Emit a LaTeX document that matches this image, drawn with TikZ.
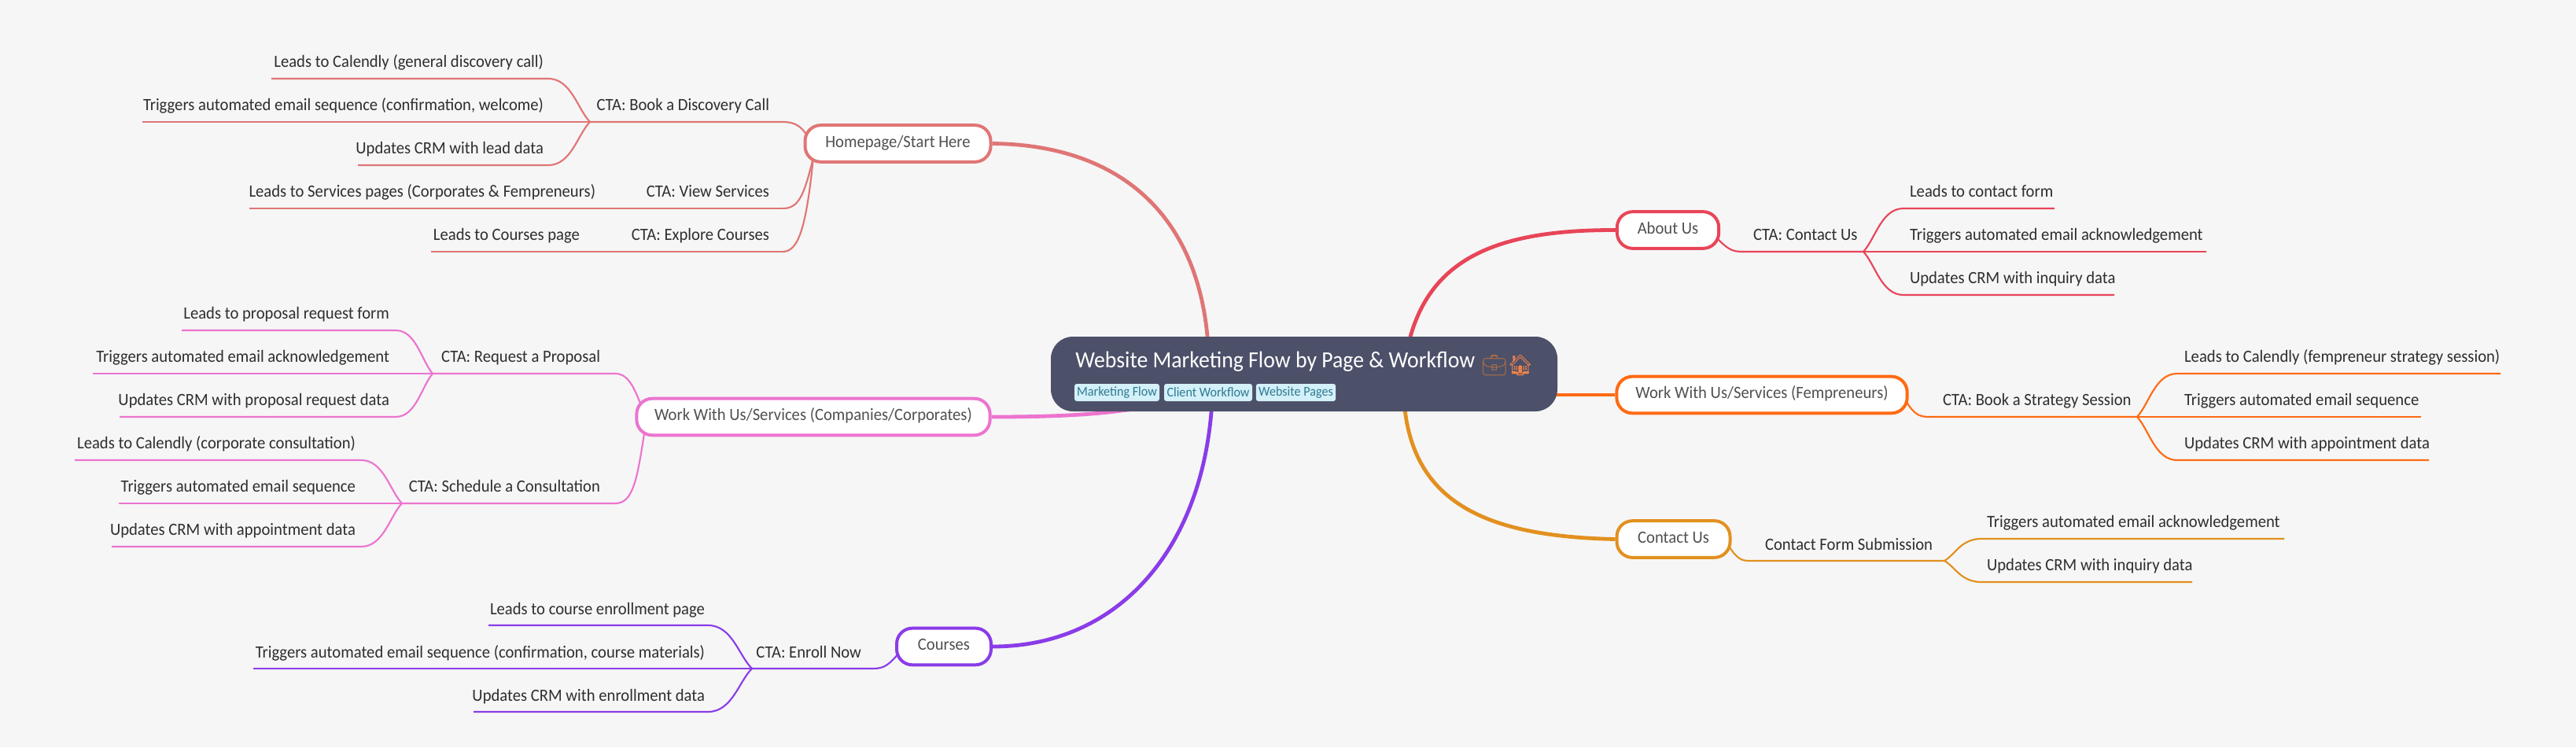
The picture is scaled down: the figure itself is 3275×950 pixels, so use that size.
\documentclass[tikz,border=0pt]{standalone}
\usepackage{fontspec}
\setmainfont[FakeStretch=0.945]{Carlito}
\newfontfamily\emojifont{Noto Emoji}
\usetikzlibrary{calc}
\pgfdeclarelayer{bg}
\pgfsetlayers{bg,main}
\definecolor{pagebg}{HTML}{F6F6F6}
\definecolor{rootfill}{HTML}{4C5069}
\definecolor{tagfill}{HTML}{D4F0F8}
\definecolor{tagtext}{HTML}{2F7A92}
\definecolor{leaftext}{HTML}{2E2E2E}
\definecolor{boxtext}{HTML}{505050}
\definecolor{chome}{HTML}{E07575}
\definecolor{cabout}{HTML}{E84558}
\definecolor{cfem}{HTML}{FF6A13}
\definecolor{ccontact}{HTML}{E2901F}
\definecolor{cwork}{HTML}{EC74CF}
\definecolor{ccourse}{HTML}{8A3CE8}
\definecolor{briefcase}{HTML}{B5703F}
\definecolor{house}{HTML}{F0824A}
\tikzset{
  x=0.75pt,y=-0.75pt,
  leaf/.style={inner sep=0pt,outer sep=0pt,text=leaftext,font=\fontsize{16.4}{18}\selectfont},
  page/.style={draw=#1,line width=3pt,rounded corners=15pt,fill=white,inner sep=0pt,text=boxtext,text height=11pt,text depth=4pt,font=\fontsize{16.4}{18}\selectfont},
  tag/.style={fill=tagfill,text=tagtext,rounded corners=2.2pt,inner sep=0pt,font=\fontsize{12.8}{14}\selectfont},
  trunk/.style={draw=#1,line width=3.6pt},
  limb/.style={draw=#1,line width=1.6pt},
}
% colour, name, far x, knee x, y, junction
\newcommand{\twig}[6]{%
  \coordinate (#2far) at (#3,#5);
  \coordinate (#2knee) at (#4,#5);
  \draw[limb=#1] (#2far) -- (#2knee)
    .. controls ($(#2knee)!0.55!(#6 |- #2knee)$) and ($(#6)!0.3!(#2knee)$) .. (#6);
}
% colour, name, far x, y, junction: the twig that runs straight into the junction
\newcommand{\stem}[5]{%
  \coordinate (#2far) at (#3,#4);
  \draw[limb=#1] (#2far) -- (#5);
}
\begin{document}
\begin{tikzpicture}
\useasboundingbox (0,0) rectangle (3275,950);
\begin{pgfonlayer}{bg}
\fill[pagebg] (0,0) rectangle (3275,950);
\end{pgfonlayer}

% central topic
\node[fill=rootfill,rounded corners=21pt,minimum width=483pt,minimum height=71.25pt,inner sep=0pt] (root) at (1658,475.5) {};
\node[inner sep=0pt,anchor=base west,text=white,font=\fontsize{22.05}{24}\selectfont] (title) at (1367,467)
  {Website Marketing Flow by Page \& Workflow};
\node[inner sep=0pt,anchor=base west,font=\fontsize{19.5}{22}\selectfont] (icons) at (1883,473)
  {{\emojifont\color{briefcase}💼}{\emojifont\color{house}🏠}};
\node[tag,minimum width=81pt,minimum height=16.5pt] (t1) at (1420,499) {Marketing Flow};
\node[tag,minimum width=84pt,minimum height=16.5pt] (t2) at (1536,499) {Client Workflow};
\node[tag,minimum width=76pt,minimum height=16.5pt] (t3) at (1647.5,499) {Website Pages};

% main pages
\node[page=chome,minimum width=177pt,minimum height=35pt] (home) at (1141.5,182.5) {Homepage/Start Here};
\node[page=cwork,minimum width=337pt,minimum height=35pt] (work) at (1034,530) {Work With Us/Services (Companies/Corporates)};
\node[page=ccourse,minimum width=90pt,minimum height=35pt] (course) at (1200,822) {Courses};
\node[page=cabout,minimum width=97pt,minimum height=35pt] (about) at (2120.5,292.5) {About Us};
\node[page=cfem,minimum width=277pt,minimum height=35pt] (fem) at (2240,502) {Work With Us/Services (Fempreneurs)};
\node[page=ccontact,minimum width=108pt,minimum height=35pt] (contact) at (2127.5,685.5) {Contact Us};

% attachment points on the central topic
\coordinate (rhome) at (1536,440);
\coordinate (rwork) at (1440,520);
\coordinate (rcourse) at (1541,510);
\coordinate (rabout) at (1790,440);
\coordinate (rfem) at (1960,502);
\coordinate (rcontact) at (1785,510);

\begin{pgfonlayer}{bg}
\draw[trunk=chome] (home.east) .. controls (1420,184) and (1525,270) .. (rhome);
\draw[trunk=cwork] (work.east) .. controls (1330,530) and (1390,528) .. (rwork);
\draw[trunk=ccourse] (course.east) .. controls (1420,822) and (1530,700) .. (rcourse);
\draw[trunk=cabout] (about.west) .. controls (1900,292) and (1815,330) .. (rabout);
\draw[trunk=cfem] (fem.west) -- (rfem);
\draw[trunk=ccontact] (contact.west) .. controls (1890,682) and (1795,640) .. (rcontact);

% limbs between pages and CTA
\coordinate (jh1) at (750,155);
\coordinate (kh1) at (995,155);
\coordinate (kh2) at (995,265);
\coordinate (kh3) at (995,320);
\draw[limb=chome] (jh1) -- (kh1) .. controls (1010,155) and (1018,160) .. (1026,172);
\draw[limb=chome] (kh2) -- ++(-678,0);
\draw[limb=chome] (kh2) .. controls (1015,265) and (1022,250) .. (1034,200);
\draw[limb=chome] (kh3) -- ++(-447,0);
\draw[limb=chome] (kh3) .. controls (1015,320) and (1025,290) .. (1034,200);

\coordinate (jw1) at (550,475);
\coordinate (kw1) at (782,475);
\coordinate (jw2) at (511,640);
\coordinate (kw2) at (782,640);
\draw[limb=cwork] (jw1) -- (kw1) .. controls (798,475) and (805,490) .. (815,515);
\draw[limb=cwork] (jw2) -- (kw2) .. controls (805,640) and (810,610) .. (820,545);

\coordinate (jc) at (956,850);
\coordinate (kc) at (1110,850);
\draw[limb=ccourse] (jc) -- (kc) .. controls (1125,850) and (1130,845) .. (1145,828);

\coordinate (ja) at (2369,320);
\coordinate (ka) at (2215,320);
\draw[limb=cabout] (ja) -- (ka) .. controls (2200,320) and (2195,315) .. (2180,300);
\coordinate (jf) at (2717,530);
\coordinate (kf) at (2452,530);
\draw[limb=cfem] (jf) -- (kf) .. controls (2438,530) and (2432,525) .. (2420,505);
\coordinate (jn) at (2472,713);
\coordinate (kn) at (2223,713);
\draw[limb=ccontact] (jn) -- (kn) .. controls (2210,713) and (2205,705) .. (2195,690);

% twigs
\twig{chome}{a}{345}{697}{100}{jh1}
\stem{chome}{b}{181}{155}{jh1}
\twig{chome}{c}{455}{697}{210}{jh1}
\twig{cwork}{d}{231}{503}{420}{jw1}
\stem{cwork}{e}{118}{475}{jw1}
\twig{cwork}{f}{152}{503}{530}{jw1}
\twig{cwork}{g}{95}{459}{585}{jw2}
\stem{cwork}{h}{151}{640}{jw2}
\twig{cwork}{i}{142}{459}{695}{jw2}
\twig{ccourse}{j}{621}{900}{795}{jc}
\stem{ccourse}{k}{322}{850}{jc}
\twig{ccourse}{l}{602}{900}{905}{jc}
\twig{cabout}{m}{2612}{2420}{265}{ja}
\stem{cabout}{n}{2805}{320}{ja}
\twig{cabout}{o}{2688}{2420}{375}{ja}
\twig{cfem}{p}{3179}{2768}{475}{jf}
\stem{cfem}{q}{3078}{530}{jf}
\twig{cfem}{r}{3088}{2768}{585}{jf}
\twig{ccontact}{s}{2904}{2519}{685}{jn}
\twig{ccontact}{u}{2787}{2519}{740}{jn}
\end{pgfonlayer}

% labels left side
\node[leaf,anchor=base east] (la) at (691,85) {Leads to Calendly (general discovery call)};
\node[leaf,anchor=base east] (lb) at (691,140) {Triggers automated email sequence (confirmation, welcome)};
\node[leaf,anchor=base east] (lc) at (691,195) {Updates CRM with lead data};
\node[leaf,anchor=base east] (ctah1) at (978,140) {CTA: Book a Discovery Call};
\node[leaf,anchor=base east] (lv) at (757,250) {Leads to Services pages (Corporates \& Fempreneurs)};
\node[leaf,anchor=base east] (ctah2) at (978,250) {CTA: View Services};
\node[leaf,anchor=base east] (lx) at (737,305) {Leads to Courses page};
\node[leaf,anchor=base east] (ctah3) at (978,305) {CTA: Explore Courses};

\node[leaf,anchor=base east] (ld) at (495,405) {Leads to proposal request form};
\node[leaf,anchor=base east] (le) at (495,460) {Triggers automated email acknowledgement};
\node[leaf,anchor=base east] (lf) at (495,515) {Updates CRM with proposal request data};
\node[leaf,anchor=base east] (ctaw1) at (763,460) {CTA: Request a Proposal};
\node[leaf,anchor=base east] (lg) at (452,570) {Leads to Calendly (corporate consultation)};
\node[leaf,anchor=base east] (lh) at (452,625) {Triggers automated email sequence};
\node[leaf,anchor=base east] (li) at (452,680) {Updates CRM with appointment data};
\node[leaf,anchor=base east] (ctaw2) at (763,625) {CTA: Schedule a Consultation};

\node[leaf,anchor=base east] (lj) at (896,781) {Leads to course enrollment page};
\node[leaf,anchor=base east] (lk) at (896,836) {Triggers automated email sequence (confirmation, course materials)};
\node[leaf,anchor=base east] (ll) at (896,891) {Updates CRM with enrollment data};
\node[leaf,anchor=base east] (ctac) at (1095,836) {CTA: Enroll Now};

% labels right side
\node[leaf,anchor=base west] (ctaa) at (2229,305) {CTA: Contact Us};
\node[leaf,anchor=base west] (lm) at (2428,250) {Leads to contact form};
\node[leaf,anchor=base west] (ln) at (2428,305) {Triggers automated email acknowledgement};
\node[leaf,anchor=base west] (lo) at (2428,360) {Updates CRM with inquiry data};

\node[leaf,anchor=base west] (ctaf) at (2470,515) {CTA: Book a Strategy Session};
\node[leaf,anchor=base west] (lp) at (2777,460) {Leads to Calendly (fempreneur strategy session)};
\node[leaf,anchor=base west] (lq) at (2777,515) {Triggers automated email sequence};
\node[leaf,anchor=base west] (lr) at (2777,570) {Updates CRM with appointment data};

\node[leaf,anchor=base west] (ctan) at (2244,699) {Contact Form Submission};
\node[leaf,anchor=base west] (ls) at (2526,670) {Triggers automated email acknowledgement};
\node[leaf,anchor=base west] (lu) at (2526,725) {Updates CRM with inquiry data};
\end{tikzpicture}
\end{document}
